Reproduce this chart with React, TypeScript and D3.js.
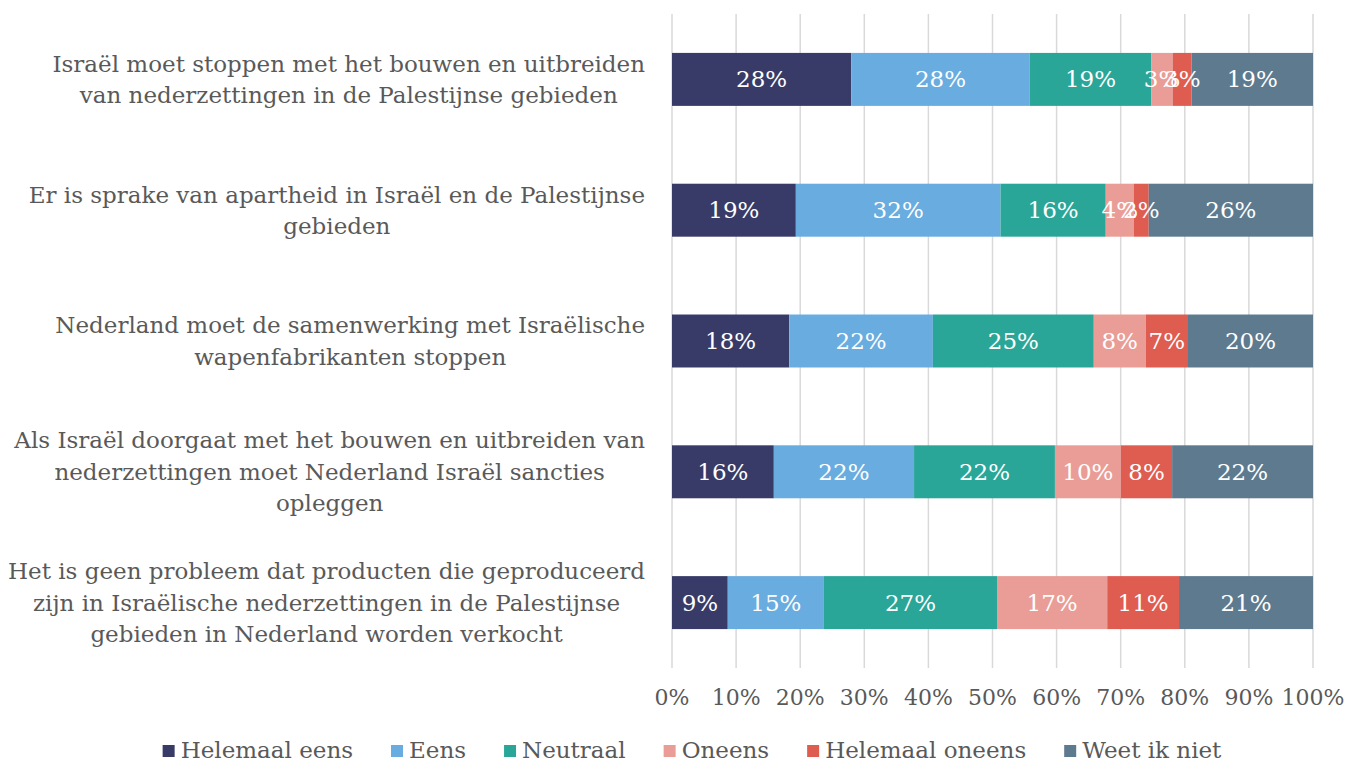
import React, { useEffect, useRef } from 'react';
import * as d3 from 'd3';

const categoryLines = [
  ['Israël moet stoppen met het bouwen en uitbreiden', 'van nederzettingen in de Palestijnse gebieden'],
  ['Er is sprake van apartheid in Israël en de Palestijnse', 'gebieden'],
  ['Nederland moet de samenwerking met Israëlische', 'wapenfabrikanten stoppen'],
  ['Als Israël doorgaat met het bouwen en uitbreiden van', 'nederzettingen moet Nederland Israël sancties', 'opleggen'],
  ['Het is geen probleem dat producten die geproduceerd', 'zijn in Israëlische nederzettingen in de Palestijnse', 'gebieden in Nederland worden verkocht']
];

const seriesNames = ['Helemaal eens', 'Eens', 'Neutraal', 'Oneens', 'Helemaal oneens', 'Weet ik niet'];
const seriesColors = ['#383b67', '#69ace0', '#2aa699', '#e99d96', '#df5c51', '#5e7a8f'];

const helemaalEens = [27.9, 19.3, 18.3, 15.9, 8.7];
const eens = [27.8, 31.9, 22.4, 21.9, 15.0];
const neutraal = [18.9, 16.4, 25.1, 22.0, 27.0];
const oneens = [3.4, 4.4, 8.1, 10.3, 17.2];
const helemaalOneens = [2.9, 2.3, 6.6, 8.0, 11.2];
const weetIkNiet = [18.9, 25.6, 19.5, 22.0, 20.9];

const xTicks = [0, 10, 20, 30, 40, 50, 60, 70, 80, 90, 100];

const FONT = '"DejaVu Serif", serif';
const TEXT = '#595959';

export default function App() {
  const ref = useRef<SVGSVGElement>(null);

  useEffect(() => {
    const svg = d3.select(ref.current);
    svg.selectAll('*').remove();

    const width = 1348;
    const margin = { left: 672, right: 35, top: 14, bottom: 94 };
    const height = 762;
    const plotBottom = height - margin.bottom;

    const allSeries = [helemaalEens, eens, neutraal, oneens, helemaalOneens, weetIkNiet];
    const rows = categoryLines.map((lines, i) => {
      const row: any = { idx: i };
      seriesNames.forEach((s, j) => { row[s] = allSeries[j][i]; });
      return row;
    });

    const stack = d3.stack().keys(seriesNames).offset(d3.stackOffsetExpand);
    const stacked = stack(rows);

    const x = d3.scaleLinear().domain([0, 1]).range([margin.left, width - margin.right]);
    const y = d3.scaleBand<number>()
      .domain(rows.map(r => r.idx))
      .range([margin.top, plotBottom])
      .paddingInner(0.595)
      .paddingOuter(0.2975);

    // gridlines
    svg.append('g')
      .selectAll('line')
      .data(xTicks)
      .join('line')
      .attr('x1', d => x(d / 100))
      .attr('x2', d => x(d / 100))
      .attr('y1', margin.top)
      .attr('y2', plotBottom)
      .attr('stroke', '#d9d9d9')
      .attr('stroke-width', 1.5);

    // tick labels
    svg.append('g')
      .selectAll('text')
      .data(xTicks)
      .join('text')
      .attr('x', d => x(d / 100))
      .attr('y', 697)
      .attr('dy', '0.35em')
      .attr('text-anchor', 'middle')
      .attr('font-family', FONT)
      .attr('font-size', 22)
      .attr('fill', TEXT)
      .text(d => d + '%');

    // bars
    const layers = svg.append('g')
      .selectAll('g')
      .data(stacked)
      .join('g')
      .attr('fill', (d, i) => seriesColors[i]);

    layers.selectAll('rect')
      .data(d => d)
      .join('rect')
      .attr('x', d => x(d[0]))
      .attr('width', d => x(d[1]) - x(d[0]))
      .attr('y', (d: any) => y(d.data.idx)!)
      .attr('height', y.bandwidth());

    // data labels
    const labels = svg.append('g');
    stacked.forEach((layer, j) => {
      labels.append('g')
        .selectAll('text')
        .data(layer)
        .join('text')
        .attr('x', d => (x(d[0]) + x(d[1])) / 2)
        .attr('y', (d: any) => y(d.data.idx)! + y.bandwidth() / 2)
        .attr('dy', '0.35em')
        .attr('text-anchor', 'middle')
        .attr('font-family', FONT)
        .attr('font-size', 23)
        .attr('fill', '#ffffff')
        .text((d: any) => Math.round(allSeries[j][d.data.idx]) + '%');
    });

    // category labels: block right-aligned, lines centered in block
    const lineH = 31.5;
    const catG = svg.append('g');
    categoryLines.forEach((lines, i) => {
      const cy = y(i)! + y.bandwidth() / 2;
      const g = catG.append('g');
      const texts = g.selectAll('text')
        .data(lines)
        .join('text')
        .attr('y', (d, k) => cy + (k - (lines.length - 1) / 2) * lineH)
        .attr('dy', '0.35em')
        .attr('text-anchor', 'middle')
        .attr('font-family', FONT)
        .attr('font-size', 23)
        .attr('fill', TEXT)
        .text(d => d);
      let maxW = 0;
      texts.each(function () {
        maxW = Math.max(maxW, (this as SVGTextElement).getComputedTextLength());
      });
      texts.attr('x', 645 - maxW / 2);
    });

    // legend
    const legend = svg.append('g');
    const items = seriesNames.map((name, i) => {
      const g = legend.append('g');
      g.append('rect')
        .attr('width', 12)
        .attr('height', 12)
        .attr('y', -5)
        .attr('fill', seriesColors[i]);
      const t = g.append('text')
        .attr('x', 18)
        .attr('dy', '0.35em')
        .attr('font-family', FONT)
        .attr('font-size', 23)
        .attr('fill', TEXT)
        .text(name);
      const w = 18 + (t.node() as SVGTextElement).getComputedTextLength();
      return { g, w };
    });
    const gap = 38;
    const total = d3.sum(items, d => d.w) + gap * (items.length - 1);
    let cx = 692 - total / 2;
    items.forEach(it => {
      it.g.attr('transform', `translate(${cx},750)`);
      cx += it.w + gap;
    });
  }, []);

  return (
    <svg ref={ref} width={1348} height={762} style={{ display: 'block', position: 'absolute', left: 0, top: 0, background: '#fff' }} />
  );
}
